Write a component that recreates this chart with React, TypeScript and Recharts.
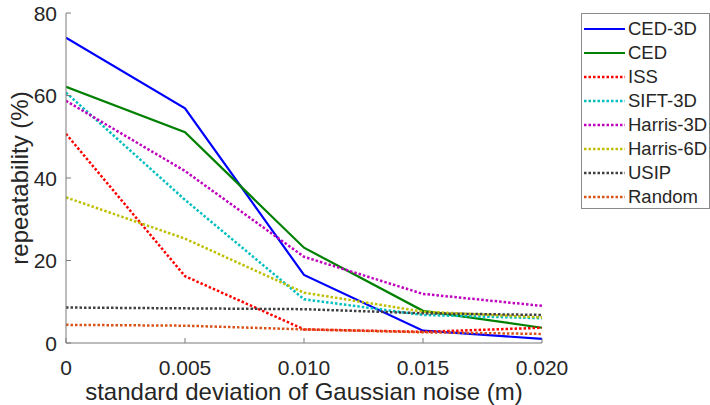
import React from 'react';
import { LineChart, Line, XAxis, YAxis, Legend, Label } from 'recharts';

const noise = [0, 0.005, 0.01, 0.015, 0.02];
const xTicks = [0, 0.005, 0.01, 0.015, 0.02];
const yTicks = [0, 20, 40, 60, 80];

const ced3d = [74.0, 56.9, 16.5, 3.0, 1.0];
const ced = [62.1, 51.1, 23.1, 7.8, 3.7];
const iss = [50.7, 16.2, 3.3, 2.7, 3.7];
const sift3d = [60.7, 34.7, 10.6, 6.8, 6.0];
const harris3d = [58.7, 41.7, 20.9, 11.9, 9.0];
const harris6d = [35.3, 25.3, 12.2, 7.6, 6.2];
const usip = [8.6, 8.4, 8.2, 7.2, 6.8];
const random = [4.4, 4.2, 3.3, 2.6, 2.2];

const seriesNames = ['CED-3D', 'CED', 'ISS', 'SIFT-3D', 'Harris-3D', 'Harris-6D', 'USIP', 'Random'];
const seriesValues = [ced3d, ced, iss, sift3d, harris3d, harris6d, usip, random];
const seriesColors = ['#0000ff', '#008000', '#ff0000', '#00bfbf', '#bf00bf', '#bfbf00', '#404040', '#d95319'];
const seriesDotted = [false, false, true, true, true, true, true, true];

const data = noise.map((x, i) => {
  const row: Record<string, number> = { x };
  seriesNames.forEach((n, k) => {
    row[n] = seriesValues[k][i];
  });
  return row;
});

const FONT = '"Liberation Sans", Arial, Helvetica, sans-serif';
const AXIS = '#7a7a7a';
const TEXT = '#262626';

const fmtX = (v: number) => (v === 0 ? '0' : v.toFixed(3));

const BottomTick = (props: any) => {
  const { x, y, payload } = props;
  return (
    <g>
      <line x1={x} y1={y} x2={x} y2={y - 5} stroke={AXIS} strokeWidth={1} />
      <text x={x} y={y + 32} textAnchor="middle" fill={TEXT} fontSize={21} fontFamily={FONT}>
        {fmtX(payload.value)}
      </text>
    </g>
  );
};

const TopTick = (props: any) => {
  const { x, y } = props;
  return <line x1={x} y1={y} x2={x} y2={y + 5} stroke={AXIS} strokeWidth={1} />;
};

const LeftTick = (props: any) => {
  const { x, y, payload } = props;
  return (
    <g>
      <line x1={x + 9} y1={y} x2={x + 14} y2={y} stroke={AXIS} strokeWidth={1} />
      <text x={x} y={y + 7.5} textAnchor="end" fill={TEXT} fontSize={21} fontFamily={FONT}>
        {payload.value}
      </text>
    </g>
  );
};

const RightTick = (props: any) => {
  const { x, y } = props;
  return <line x1={x} y1={y} x2={x - 5} y2={y} stroke={AXIS} strokeWidth={1} />;
};

const LegendBox = () => (
  <div
    style={{
      width: 129,
      height: 196,
      border: '1px solid #8a8a8a',
      background: '#fff',
      boxSizing: 'border-box',
      paddingTop: 3,
      fontFamily: FONT,
    }}
  >
    {seriesNames.map((n, k) => (
      <div key={n} style={{ display: 'flex', alignItems: 'center', height: 24 }}>
        <svg width={44} height={10} style={{ marginLeft: 2, flex: 'none' }}>
          <line
            x1={0}
            y1={5}
            x2={41}
            y2={5}
            stroke={seriesColors[k]}
            strokeWidth={seriesDotted[k] ? 2.5 : 2}
            strokeDasharray={seriesDotted[k] ? '2.5 2' : undefined}
          />
        </svg>
        <span style={{ fontSize: 18.5, color: TEXT, whiteSpace: 'nowrap' }}>{n}</span>
      </div>
    ))}
  </div>
);

export default function App() {
  return (
    <div style={{ position: 'absolute', left: 0, top: 0, background: '#fff' }}>
      <LineChart width={710} height={405} data={data} margin={{ top: 13, right: 168, bottom: 0, left: 0 }}>
        <XAxis
          dataKey="x"
          type="number"
          domain={[0, 0.02]}
          ticks={xTicks}
          allowDataOverflow
          height={62}
          stroke={AXIS}
          tickSize={0}
          tickMargin={0}
          tick={<BottomTick />}
          interval={0}
        >
          <Label
            value="standard deviation of Gaussian noise (m)"
            position="insideBottom"
            offset={5}
            fill={TEXT}
            fontSize={24}
            fontFamily={FONT}
          />
        </XAxis>
        <XAxis
          xAxisId="top"
          orientation="top"
          dataKey="x"
          type="number"
          domain={[0, 0.02]}
          ticks={xTicks}
          allowDataOverflow
          height={0}
          stroke={AXIS}
          tickSize={0}
          tickMargin={0}
          tick={<TopTick />}
          interval={0}
        />
        <YAxis
          type="number"
          domain={[0, 80]}
          ticks={yTicks}
          allowDataOverflow
          width={66}
          stroke={AXIS}
          tickSize={0}
          tickMargin={9}
          tick={<LeftTick />}
          interval={0}
        >
          <Label
            value="repeatability (%)"
            angle={-90}
            position="insideLeft"
            offset={19}
            style={{ textAnchor: 'middle' }}
            fill={TEXT}
            fontSize={24}
            fontFamily={FONT}
          />
        </YAxis>
        <YAxis
          yAxisId="right"
          orientation="right"
          type="number"
          domain={[0, 80]}
          ticks={yTicks}
          allowDataOverflow
          width={0}
          stroke={AXIS}
          tickSize={0}
          tickMargin={0}
          tick={<RightTick />}
          interval={0}
        />
        <Legend
          content={<LegendBox />}
          layout="vertical"
          verticalAlign="middle"
          align="center"
          wrapperStyle={{ position: 'absolute', left: 581, top: 13, width: 129 }}
        />
        {seriesNames.map((n, k) => (
          <Line
            key={n}
            dataKey={n}
            stroke={seriesColors[k]}
            strokeWidth={seriesDotted[k] ? 2.5 : 2.2}
            strokeDasharray={seriesDotted[k] ? '2.5 2' : undefined}
            dot={false}
            activeDot={false}
            isAnimationActive={false}
            type="linear"
          />
        ))}
      </LineChart>
    </div>
  );
}
